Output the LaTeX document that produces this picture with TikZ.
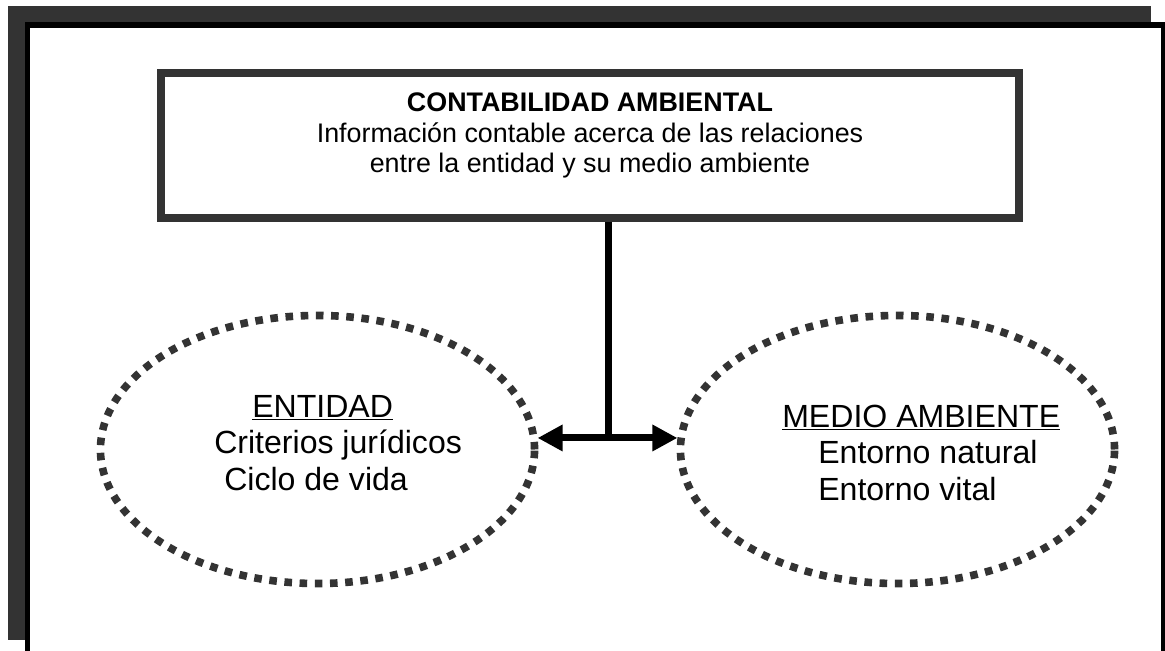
\documentclass[tikz,border=0pt]{standalone}
\usepackage{fontspec}
\setmainfont{Liberation Sans}
\usetikzlibrary{shapes.geometric}
\usetikzlibrary{arrows.meta}
\definecolor{sh1}{RGB}{51,51,51}
\definecolor{ln1}{RGB}{0,0,0}

\begin{document}
\begin{tikzpicture}[
    x=0.025cm, y=-0.025cm,
    c/.style={
        rectangle, draw=sh1, fill=white, line width=0.2cm,
        minimum width=21.45cm, minimum height=3.6125cm, inner sep=0pt
    },
    o/.style={
        ellipse, draw=sh1, line width=0.19cm,
        dash pattern=on 0.19cm off 0.19cm,
        minimum width=10.85cm, minimum height=6.7cm, inner sep=0pt
    },
    tt/.style={font={\fontsize{19.1}{22}\selectfont}, inner sep=0pt, anchor=base},
    tx/.style={font={\fontsize{22.8}{27}\selectfont}, inner sep=0pt, anchor=base west},
    l/.style={line width=0.175cm, color=ln1},
    fl/.style={
        line width=0.175cm, color=ln1,
        {Triangle[length=0.625cm, width=0.625cm]}-{Triangle[length=0.625cm, width=0.625cm]}
    }
]
    \useasboundingbox (0,0) rectangle (1165,651);
    \clip (0,0) rectangle (1165,651);

    % marco con sombra
    \fill [sh1] (8,6) rectangle (1151,640);
    \draw [fill=white, line width=0.125cm] (27.5,25) rectangle (1163,670);

    \node [c] (top) at (590,145.25) {};
    \node [o] (ent) at (317.5,449.5) {};
    \node [o] (med) at (897.5,449.5) {};

    \node [tt] (t1) at (590,111) {\bfseries CONTABILIDAD AMBIENTAL};
    \node [tt] (t2) at (590,142) {Información contable acerca de las relaciones};
    \node [tt] (t3) at (590,172) {entre la entidad y su medio ambiente};

    \node [tx] (e1) at (252,417) {\underline{ENTIDAD}};
    \node [tx] (e2) at (214,453) {Criterios jurídicos};
    \node [tx] (e3) at (224,490) {Ciclo de vida};

    \node [tx] (m1) at (782,427) {\underline{MEDIO AMBIENTE}};
    \node [tx] (m2) at (818,463) {Entorno natural};
    \node [tx] (m3) at (818,500) {Entorno vital};

    \coordinate (j) at (608,438);

    \draw (top.south -| j) edge [l] (j);
    \draw (ent.3) edge [fl] (med.177);

\end{tikzpicture}
\end{document}
